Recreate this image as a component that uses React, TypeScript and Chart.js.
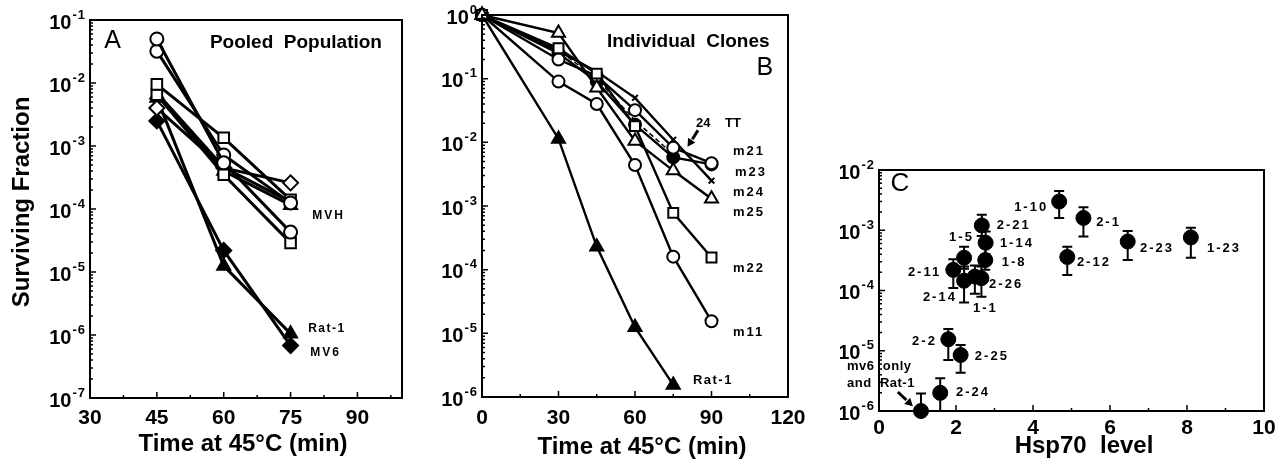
import React, { useEffect, useRef } from "react";
import { Chart, registerables } from "chart.js";
Chart.register(...registerables);

const FONT = "'Liberation Sans', Arial, Helvetica, sans-serif";

// ---------------- Panel A data (pooled population) ----------------
const timesA = [45, 60, 75];
const aCircle1 = [0.05, 5.4e-4, 4.3e-5];
const aCircle2 = [0.032, 7.2e-4, 1.25e-4];
const aSquare1 = [0.0095, 1.35e-3, 1.4e-4];
const aSquare2 = [0.0065, 3.5e-4, 2.9e-5];
const aDiamond = [0.004, 4.5e-4, 2.6e-4];
const aTriangle = [0.0065, 4.0e-4, 1.15e-4];
const aFilledSquare = [0.007, 4.6e-4, 1.3e-4];
const aRat1 = [0.0058, 1.25e-5, 1.05e-6];
const aMV6 = [0.0025, 2.2e-5, 6.8e-7];

// ---------------- Panel B data (individual clones) ----------------
const timesB = [0, 30, 45, 60, 75, 90];
const bRat1 = [1, 0.0113, 2.3e-4, 1.25e-5, 1.55e-6, null];
const bM11 = [1, 0.09, 0.04, 0.0044, 1.6e-4, 1.55e-5];
const bM22 = [1, 0.3, 0.12, 0.018, 7.8e-4, 1.55e-4];
const bM25 = [1, 0.52, 0.072, 0.0105, 0.0036, 0.0013];
const bM24 = [1, 0.27, 0.13, 0.05, 0.011, 0.0025];
const bM21 = [1, 0.2, 0.11, 0.032, 0.0082, 0.0047];
const bM23 = [1, 0.25, 0.09, 0.019, 0.0058, 0.0045];
const b24TT = [1, 0.28, 0.1, 0.022, 0.0065, null];

// ---------------- Panel C data (Hsp70 level vs survival) ----------------
const cNames = ["", "2-24", "2-2", "2-25", "2-11", "2-14", "1-5", "1-1", "2-26", "1-8", "1-14", "2-21", "1-10", "2-1", "2-12", "2-23", "1-23"];
const cHsp = [1.09, 1.59, 1.8, 2.12, 1.93, 2.21, 2.21, 2.49, 2.66, 2.76, 2.77, 2.67, 4.68, 5.31, 4.89, 6.46, 8.1];
const cSurv = [1.0e-6, 2.0e-6, 1.55e-5, 8.5e-6, 2.2e-4, 1.45e-4, 3.5e-4, 1.7e-4, 1.6e-4, 3.2e-4, 6.2e-4, 1.2e-3, 3.0e-3, 1.6e-3, 3.6e-4, 6.5e-4, 7.6e-4];
const cErrHigh = [1.95e-6, 3.5e-6, 2.3e-5, 1.25e-5, 3.3e-4, 2.5e-4, 5.3e-4, 2.6e-4, 2.5e-4, 5.1e-4, 9.5e-4, 1.8e-3, 4.5e-3, 2.4e-3, 5.3e-4, 9.7e-4, 1.1e-3];
const cErrLow = [null, 1.0e-6, 7.0e-6, 4.3e-6, 1.1e-4, 6.3e-5, 2.3e-4, 8.8e-5, 7.9e-5, 2.2e-4, 4.0e-4, 8.0e-4, 1.6e-3, 7.9e-4, 1.8e-4, 3.2e-4, 3.5e-4];
// label anchor (data coords, left edge / middle)
const cLabelX = [0, 2.0, 0.86, 2.49, 0.75, 1.14, 1.82, 2.44, 2.86, 3.19, 3.14, 3.06, 3.51, 5.64, 5.14, 6.78, 8.52];
const cLabelY = [0, 2.0e-6, 1.45e-5, 7.9e-6, 2.03e-4, 7.8e-5, 7.7e-4, 5.1e-5, 1.28e-4, 2.97e-4, 6.15e-4, 1.22e-3, 2.43e-3, 1.37e-3, 2.97e-4, 5.07e-4, 5.07e-4];

type Lbl = { text: string; x: number; y: number; font: string; spacing?: number; align?: CanvasTextAlign };
type Arrow = { x1: number; y1: number; x2: number; y2: number };
type Spec = {
  xMajor: number[];
  xMinor: number[];
  xLabels: number[];
  xLabelDy: number;
  yExpMin: number;
  yExpMax: number;
  xTitle: { text: string; cx: number; cy: number; size: number };
  yTitle?: { text: string; cx: number; cy: number; size: number };
  labels: Lbl[];
  arrows: Arrow[];
  errors?: { xs: number[]; lo: (number | null)[]; hi: number[] };
};

function decor(spec: Spec) {
  return {
    id: "decor",
    beforeDatasetsDraw(chart: any) {
      if (!spec.errors) return;
      const { ctx, scales } = chart;
      const xs = scales.x, ys = scales.y;
      ctx.save();
      ctx.strokeStyle = "#000";
      ctx.lineWidth = 2;
      spec.errors.xs.forEach((xv, i) => {
        const px = xs.getPixelForValue(xv);
        const hi = spec.errors!.hi[i];
        const lo = spec.errors!.lo[i];
        const pyHi = ys.getPixelForValue(hi);
        const pyLo = lo == null ? ys.getPixelForValue(cSurv[i]) : ys.getPixelForValue(lo);
        ctx.beginPath();
        ctx.moveTo(px, pyHi);
        ctx.lineTo(px, pyLo);
        ctx.moveTo(px - 5, pyHi);
        ctx.lineTo(px + 5, pyHi);
        if (lo != null) {
          ctx.moveTo(px - 5, pyLo);
          ctx.lineTo(px + 5, pyLo);
        }
        ctx.stroke();
      });
      ctx.restore();
    },
    afterDraw(chart: any) {
      const { ctx, chartArea: ca, scales } = chart;
      const xs = scales.x, ys = scales.y;
      ctx.save();
      ctx.strokeStyle = "#000";
      ctx.fillStyle = "#000";
      // frame
      ctx.lineWidth = 2;
      ctx.strokeRect(ca.left, ca.top, ca.right - ca.left, ca.bottom - ca.top);
      // x ticks (inward)
      ctx.lineWidth = 1.5;
      ctx.beginPath();
      spec.xMajor.forEach((v) => {
        const px = xs.getPixelForValue(v);
        ctx.moveTo(px, ca.bottom);
        ctx.lineTo(px, ca.bottom - 6);
      });
      spec.xMinor.forEach((v) => {
        const px = xs.getPixelForValue(v);
        ctx.moveTo(px, ca.bottom);
        ctx.lineTo(px, ca.bottom - 3);
      });
      // y ticks (log, inward)
      for (let e = spec.yExpMin; e <= spec.yExpMax; e++) {
        const py = ys.getPixelForValue(Math.pow(10, e));
        ctx.moveTo(ca.left, py);
        ctx.lineTo(ca.left + 6, py);
        if (e < spec.yExpMax) {
          for (let k = 2; k <= 9; k++) {
            const pm = ys.getPixelForValue(k * Math.pow(10, e));
            ctx.moveTo(ca.left, pm);
            ctx.lineTo(ca.left + 3, pm);
          }
        }
      }
      ctx.stroke();
      // y tick labels: 10^e
      ctx.textBaseline = "middle";
      for (let e = spec.yExpMin; e <= spec.yExpMax; e++) {
        const py = ys.getPixelForValue(Math.pow(10, e));
        const expTxt = e === 0 ? "0" : "-" + String(-e);
        ctx.font = `bold 13px ${FONT}`;
        ctx.textAlign = "right";
        (ctx as any).letterSpacing = "1px";
        const ew = ctx.measureText(expTxt).width;
        const right = ca.left - 4;
        ctx.fillText(expTxt, right, py - 5);
        (ctx as any).letterSpacing = "0px";
        ctx.font = `bold 20px ${FONT}`;
        ctx.fillText("10", right - ew - 1, py + 3);
      }
      // x tick labels
      ctx.font = `bold 21px ${FONT}`;
      ctx.textAlign = "center";
      spec.xLabels.forEach((v) => {
        ctx.fillText(String(v), xs.getPixelForValue(v), ca.bottom + spec.xLabelDy);
      });
      // axis titles
      ctx.font = `bold ${spec.xTitle.size}px ${FONT}`;
      ctx.fillText(spec.xTitle.text, spec.xTitle.cx, spec.xTitle.cy);
      if (spec.yTitle) {
        ctx.save();
        ctx.translate(spec.yTitle.cx, spec.yTitle.cy);
        ctx.rotate(-Math.PI / 2);
        ctx.font = `bold ${spec.yTitle.size}px ${FONT}`;
        ctx.fillText(spec.yTitle.text, 0, 0);
        ctx.restore();
      }
      // annotation labels
      spec.labels.forEach((l) => {
        ctx.font = l.font;
        ctx.textAlign = l.align || "left";
        (ctx as any).letterSpacing = (l.spacing || 0) + "px";
        ctx.fillText(l.text, xs.getPixelForValue(l.x), ys.getPixelForValue(l.y));
        (ctx as any).letterSpacing = "0px";
      });
      // arrows
      spec.arrows.forEach((a) => {
        const x1 = xs.getPixelForValue(a.x1), y1 = ys.getPixelForValue(a.y1);
        const x2 = xs.getPixelForValue(a.x2), y2 = ys.getPixelForValue(a.y2);
        const ang = Math.atan2(y2 - y1, x2 - x1);
        const hl = 9;
        ctx.lineWidth = 3;
        ctx.beginPath();
        ctx.moveTo(x1, y1);
        ctx.lineTo(x2 - hl * Math.cos(ang), y2 - hl * Math.sin(ang));
        ctx.stroke();
        ctx.beginPath();
        ctx.moveTo(x2, y2);
        ctx.lineTo(x2 - hl * Math.cos(ang - 0.5), y2 - hl * Math.sin(ang - 0.5));
        ctx.lineTo(x2 - hl * Math.cos(ang + 0.5), y2 - hl * Math.sin(ang + 0.5));
        ctx.closePath();
        ctx.fill();
      });
      ctx.restore();
    },
  };
}

type Style = { shape: string; fill: boolean; r: number; lw: number; dash?: number[] };

function lineDs(xs: number[], ys: (number | null)[], st: Style) {
  const data = xs
    .map((x, i) => ({ x, y: ys[i] }))
    .filter((p) => p.y != null);
  return {
    data,
    borderColor: "#000",
    borderWidth: st.lw,
    borderDash: st.dash || [],
    pointStyle: st.shape,
    pointRadius: st.r,
    pointBorderWidth: 2,
    pointBorderColor: "#000",
    pointBackgroundColor: st.fill ? "#000" : "#fff",
    showLine: true,
    tension: 0,
    fill: false,
    clip: false,
  };
}

function baseOptions(pad: any, xmin: number, xmax: number, ymin: number, ymax: number) {
  return {
    responsive: false,
    maintainAspectRatio: false,
    devicePixelRatio: 1,
    animation: false,
    events: [],
    layout: { padding: pad },
    plugins: { legend: { display: false }, tooltip: { enabled: false } },
    scales: {
      x: { type: "linear", min: xmin, max: xmax, display: false },
      y: { type: "logarithmic", min: ymin, max: ymax, display: false },
    },
  };
}

const small = (px: number) => `bold ${px}px ${FONT}`;

function buildA(): any {
  const lw = 3;
  const datasets = [
    lineDs(timesA, aCircle1, { shape: "circle", fill: false, r: 6.5, lw }),
    lineDs(timesA, aCircle2, { shape: "circle", fill: false, r: 6.5, lw }),
    lineDs(timesA, aSquare1, { shape: "rect", fill: false, r: 7.5, lw }),
    lineDs(timesA, aSquare2, { shape: "rect", fill: false, r: 7.5, lw }),
    lineDs(timesA, aDiamond, { shape: "rectRot", fill: false, r: 7.5, lw }),
    lineDs(timesA, aTriangle, { shape: "triangle", fill: false, r: 7.5, lw }),
    lineDs(timesA, aFilledSquare, { shape: "rect", fill: true, r: 6.5, lw }),
    lineDs(timesA, aRat1, { shape: "triangle", fill: true, r: 7.5, lw }),
    lineDs(timesA, aMV6, { shape: "rectRot", fill: true, r: 7.5, lw }),
  ];
  const spec: Spec = {
    xMajor: [45, 60, 75, 90],
    xMinor: [37.5, 52.5, 67.5, 82.5, 97.5],
    xLabels: [30, 45, 60, 75, 90],
    xLabelDy: 20,
    yExpMin: -7,
    yExpMax: -1,
    xTitle: { text: "Time at 45°C (min)", cx: 243, cy: 444, size: 24 },
    yTitle: { text: "Surviving Fraction", cx: 22, cy: 202, size: 24 },
    labels: [
      { text: "A", x: 33.2, y: 0.046, font: `25px ${FONT}` },
      { text: "Pooled  Population", x: 56.9, y: 0.043, font: small(19) },
      { text: "MVH", x: 79.85, y: 7.7e-5, font: small(12), spacing: 2 },
      { text: "Rat-1", x: 78.95, y: 1.24e-6, font: small(12), spacing: 1.5 },
      { text: "MV6", x: 79.4, y: 5.2e-7, font: small(12), spacing: 2 },
    ],
    arrows: [],
  };
  return {
    type: "line",
    data: { datasets },
    options: baseOptions({ left: 90, right: 18, top: 20, bottom: 67 }, 30, 100, 1e-7, 1e-1),
    plugins: [decor(spec)],
  };
}

function buildB(): any {
  const lw = 2.4;
  const datasets = [
    lineDs(timesB, bM25, { shape: "triangle", fill: false, r: 7.5, lw }),
    lineDs(timesB, bM22, { shape: "rect", fill: false, r: 7, lw }),
    lineDs(timesB, bM21, { shape: "circle", fill: false, r: 6, lw }),
    lineDs(timesB, bM11, { shape: "circle", fill: false, r: 6, lw }),
    lineDs(timesB, bM24, { shape: "crossRot", fill: false, r: 4, lw }),
    lineDs(timesB, bM23, { shape: "circle", fill: true, r: 6, lw }),
    lineDs(timesB, b24TT, { shape: "circle", fill: true, r: 0, lw: 1.5, dash: [5, 3] }),
    lineDs(timesB, bRat1, { shape: "triangle", fill: true, r: 7.5, lw }),
  ];
  const spec: Spec = {
    xMajor: [30, 60, 90],
    xMinor: [15, 45, 75, 105],
    xLabels: [0, 30, 60, 90, 120],
    xLabelDy: 21,
    yExpMin: -6,
    yExpMax: 0,
    xTitle: { text: "Time at 45°C (min)", cx: 222, cy: 447, size: 24 },
    labels: [
      { text: "Individual  Clones", x: 49, y: 0.377, font: small(19) },
      { text: "B", x: 107.6, y: 0.147, font: `25px ${FONT}` },
      { text: "24", x: 83.9, y: 0.0201, font: small(13) },
      { text: "TT", x: 95.3, y: 0.0201, font: small(13) },
      { text: "m21", x: 98.4, y: 7.1e-3, font: small(13), spacing: 2 },
      { text: "m23", x: 99.2, y: 3.42e-3, font: small(13), spacing: 2 },
      { text: "m24", x: 98.4, y: 1.66e-3, font: small(13), spacing: 2 },
      { text: "m25", x: 98.4, y: 8.05e-4, font: small(13), spacing: 2 },
      { text: "m22", x: 98.4, y: 1.06e-4, font: small(13), spacing: 2 },
      { text: "m11", x: 98.4, y: 1.05e-5, font: small(13), spacing: 2 },
      { text: "Rat-1", x: 82.7, y: 1.85e-6, font: small(13), spacing: 1.5 },
    ],
    arrows: [{ x1: 84.7, y1: 0.0155, x2: 80.6, y2: 0.0085 }],
  };
  return {
    type: "line",
    data: { datasets },
    options: baseOptions({ left: 62, right: 52, top: 15, bottom: 68 }, 0, 120, 1e-6, 1),
    plugins: [decor(spec)],
  };
}

function buildC(): any {
  const datasets = [
    {
      data: cHsp.map((x, i) => ({ x, y: cSurv[i] })),
      pointStyle: "circle",
      pointRadius: 7.5,
      pointBackgroundColor: "#000",
      pointBorderColor: "#000",
      pointBorderWidth: 1,
      showLine: false,
      clip: false,
    },
  ];
  const labels: Lbl[] = cNames
    .map((t, i) => ({ text: t, x: cLabelX[i], y: cLabelY[i], font: small(13), spacing: 2 }))
    .filter((l) => l.text !== "");
  labels.push({ text: "C", x: 0.3, y: 5.9e-3, font: `26px ${FONT}` });
  labels.push({ text: "mv6  only", x: -0.83, y: 5.4e-6, font: small(13), spacing: 0.5 });
  labels.push({ text: "and  Rat-1", x: -0.83, y: 2.9e-6, font: small(13), spacing: 0.5 });
  const spec: Spec = {
    xMajor: [2, 4, 6, 8],
    xMinor: [1, 3, 5, 7, 9],
    xLabels: [0, 2, 4, 6, 8, 10],
    xLabelDy: 17,
    yExpMin: -6,
    yExpMax: -2,
    xTitle: { text: "Hsp70  level", cx: 244, cy: 446, size: 24 },
    labels,
    arrows: [{ x1: 0.49, y1: 2.07e-6, x2: 0.88, y2: 1.2e-6 }],
    errors: { xs: cHsp, lo: cErrLow, hi: cErrHigh },
  };
  return {
    type: "scatter",
    data: { datasets },
    options: baseOptions({ left: 39, right: 19, top: 170, bottom: 54 }, 0, 10, 1e-6, 1e-2),
    plugins: [decor(spec)],
  };
}

function Panel({ left, width, height, build }: { left: number; width: number; height: number; build: () => any }) {
  const ref = useRef<HTMLCanvasElement>(null);
  useEffect(() => {
    const chart = new Chart(ref.current as HTMLCanvasElement, build());
    return () => chart.destroy();
  }, []);
  return (
    <canvas
      ref={ref}
      width={width}
      height={height}
      style={{ position: "absolute", left, top: 0, width, height }}
    />
  );
}

export default function App() {
  return (
    <div style={{ position: "fixed", left: 0, top: 0, width: 1283, height: 465, background: "#fff" }}>
      <Panel left={0} width={420} height={465} build={buildA} />
      <Panel left={420} width={420} height={465} build={buildB} />
      <Panel left={840} width={443} height={465} build={buildC} />
    </div>
  );
}
